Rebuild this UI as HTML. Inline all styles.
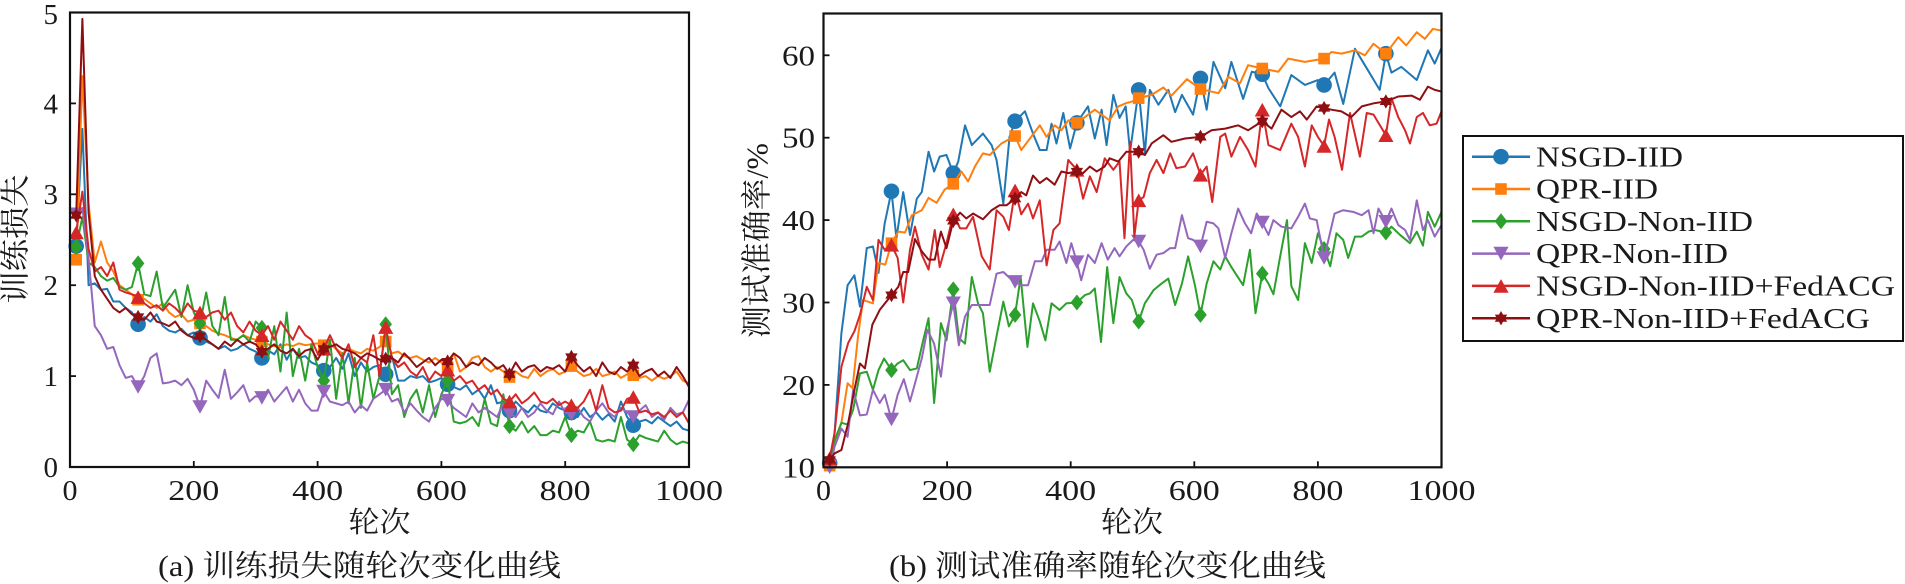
<!DOCTYPE html>
<html>
<head>
<meta charset="utf-8">
<style>
html,body{margin:0;padding:0;background:#fff;}
svg{display:block;}
.t{font-family:"Liberation Serif","Noto Serif CJK SC",serif;fill:#1a1a1a;}
.c{font-family:"Liberation Serif","Noto Serif CJK SC",serif;fill:#1a1a1a;}
</style>
</head>
<body>
<svg width="1905" height="584" viewBox="0 0 1905 584" xmlns="http://www.w3.org/2000/svg">
<defs>
<circle id="mc" r="7.8"/>
<rect id="ms" x="-5.8" y="-5.8" width="11.6" height="11.6"/>
<path id="md" d="M0,-8L6.3,0L0,8L-6.3,0Z"/>
<path id="mv" d="M-7.6,-6.8L7.6,-6.8L0,6.8Z"/>
<path id="mt" d="M-7.6,6.8L7.6,6.8L0,-6.8Z"/>
<path id="mh" d="M0,-7.2L6.2,3.6L-6.2,3.6Z M0,7.2L-6.2,-3.6L6.2,-3.6Z"/>
</defs>
<rect x="0" y="0" width="1905" height="584" fill="#fff"/>

<!-- ============ LEFT PLOT ============ -->
<g transform="matrix(0.619,0,0,-90.9,70,467)" fill="none" stroke-width="2" stroke-linejoin="round">
<polyline vector-effect="non-scaling-stroke" stroke="#1f77b4" points="10,2.43 20,3.72 30,2.0 40,2.02 50,1.95 60,1.96 70,1.82 80,1.82 90,1.75 100,1.7 110,1.57 120,1.65 130,1.6 140,1.68 150,1.55 160,1.5 170,1.48 180,1.52 190,1.45 200,1.48 210,1.42 220,1.38 230,1.35 240,1.3 250,1.33 260,1.28 270,1.3 280,1.35 290,1.3 300,1.27 310,1.2 320,1.28 330,1.24 340,1.35 350,1.18 360,1.3 370,1.2 380,1.22 390,1.15 400,1.12 410,1.06 420,1.1 430,1.2 440,1.08 450,1.25 460,1.0 470,1.15 480,1.05 490,1.1 500,1.12 510,1.02 520,1.22 530,0.95 540,0.95 550,1.0 560,0.98 570,1.0 580,0.93 590,0.95 600,0.98 610,0.91 620,0.88 630,0.85 640,0.9 650,0.8 660,0.85 670,0.75 680,0.9 690,0.7 700,0.72 710,0.62 720,0.72 730,0.65 740,0.6 750,0.68 760,0.62 770,0.6 780,0.7 790,0.65 800,0.62 810,0.6 820,0.55 830,0.65 840,0.55 850,0.6 860,0.52 870,0.58 880,0.5 890,0.72 900,0.55 910,0.46 920,0.5 930,0.52 940,0.48 950,0.55 960,0.5 970,0.45 980,0.5 990,0.42 1000,0.4"/>
<g fill="#1f77b4" stroke="none">
<use href="#mc" transform="translate(10,2.43) scale(1.6155,-0.011001)"/>
<use href="#mc" transform="translate(110,1.57) scale(1.6155,-0.011001)"/>
<use href="#mc" transform="translate(210,1.42) scale(1.6155,-0.011001)"/>
<use href="#mc" transform="translate(310,1.2) scale(1.6155,-0.011001)"/>
<use href="#mc" transform="translate(410,1.06) scale(1.6155,-0.011001)"/>
<use href="#mc" transform="translate(510,1.02) scale(1.6155,-0.011001)"/>
<use href="#mc" transform="translate(610,0.91) scale(1.6155,-0.011001)"/>
<use href="#mc" transform="translate(710,0.62) scale(1.6155,-0.011001)"/>
<use href="#mc" transform="translate(810,0.6) scale(1.6155,-0.011001)"/>
<use href="#mc" transform="translate(910,0.46) scale(1.6155,-0.011001)"/>
</g>
<polyline vector-effect="non-scaling-stroke" stroke="#ff7f0e" points="10,2.28 20,4.3 30,2.9 40,2.25 50,2.48 60,2.25 70,2.15 80,2.0 90,1.95 100,1.9 110,1.84 120,1.85 130,1.8 140,1.75 150,1.8 160,1.7 170,1.65 180,1.68 190,1.6 200,1.62 210,1.58 220,1.55 230,1.5 240,1.47 250,1.45 260,1.42 270,1.4 280,1.45 290,1.42 300,1.4 310,1.38 320,1.35 330,1.33 340,1.32 350,1.35 360,1.33 370,1.36 380,1.34 390,1.35 400,1.36 410,1.34 420,1.35 430,1.3 440,1.25 450,1.3 460,1.27 470,1.25 480,1.3 490,1.28 500,1.32 510,1.38 520,1.25 530,1.27 540,1.22 550,1.2 560,1.22 570,1.18 580,1.15 590,1.2 600,1.15 610,1.1 620,1.25 630,1.05 640,1.1 650,1.2 660,1.22 670,1.1 680,1.05 690,1.1 700,1.05 710,0.99 720,1.05 730,1.0 740,0.98 750,1.08 760,1.0 770,1.05 780,1.08 790,1.02 800,1.05 810,1.11 820,1.05 830,1.0 840,1.02 850,1.08 860,1.0 870,1.02 880,1.05 890,0.98 900,1.02 910,1.01 920,0.98 930,1.0 940,0.95 950,1.0 960,0.97 970,1.0 980,1.05 990,0.95 1000,0.92"/>
<g fill="#ff7f0e" stroke="none">
<use href="#ms" transform="translate(10,2.28) scale(1.6155,-0.011001)"/>
<use href="#ms" transform="translate(110,1.84) scale(1.6155,-0.011001)"/>
<use href="#ms" transform="translate(210,1.58) scale(1.6155,-0.011001)"/>
<use href="#ms" transform="translate(310,1.38) scale(1.6155,-0.011001)"/>
<use href="#ms" transform="translate(410,1.34) scale(1.6155,-0.011001)"/>
<use href="#ms" transform="translate(510,1.38) scale(1.6155,-0.011001)"/>
<use href="#ms" transform="translate(610,1.1) scale(1.6155,-0.011001)"/>
<use href="#ms" transform="translate(710,0.99) scale(1.6155,-0.011001)"/>
<use href="#ms" transform="translate(810,1.11) scale(1.6155,-0.011001)"/>
<use href="#ms" transform="translate(910,1.01) scale(1.6155,-0.011001)"/>
</g>
<polyline vector-effect="non-scaling-stroke" stroke="#2ca02c" points="10,2.42 20,2.75 30,2.25 40,2.2 50,2.1 60,2.05 70,2.08 80,1.98 90,1.95 100,1.98 110,2.24 120,1.9 130,1.88 140,2.15 150,1.75 160,1.85 170,1.95 180,1.65 190,2.0 200,1.7 210,1.58 220,1.92 230,1.55 240,1.45 250,1.87 260,1.4 270,1.4 280,1.45 290,1.38 300,1.6 310,1.53 320,1.2 330,1.55 340,1.05 350,1.7 360,1.0 370,1.3 380,0.95 390,1.35 400,1.1 410,0.95 420,1.4 430,0.75 440,1.25 450,0.7 460,1.2 470,0.65 480,1.15 490,0.75 500,1.0 510,1.57 520,0.8 530,0.9 540,0.55 550,0.75 560,0.85 570,0.6 580,0.9 590,0.55 600,0.8 610,0.95 620,0.5 630,0.48 640,0.5 650,0.55 660,0.45 670,0.75 680,0.48 690,0.45 700,0.8 710,0.45 720,0.4 730,0.5 740,0.38 750,0.45 760,0.35 770,0.35 780,0.4 790,0.38 800,0.55 810,0.35 820,0.4 830,0.38 840,0.5 850,0.3 860,0.28 870,0.3 880,0.28 890,0.55 900,0.3 910,0.25 920,0.35 930,0.32 940,0.3 950,0.28 960,0.4 970,0.3 980,0.25 990,0.28 1000,0.26"/>
<g fill="#2ca02c" stroke="none">
<use href="#md" transform="translate(10,2.42) scale(1.6155,-0.011001)"/>
<use href="#md" transform="translate(110,2.24) scale(1.6155,-0.011001)"/>
<use href="#md" transform="translate(210,1.58) scale(1.6155,-0.011001)"/>
<use href="#md" transform="translate(310,1.53) scale(1.6155,-0.011001)"/>
<use href="#md" transform="translate(410,0.95) scale(1.6155,-0.011001)"/>
<use href="#md" transform="translate(510,1.57) scale(1.6155,-0.011001)"/>
<use href="#md" transform="translate(610,0.95) scale(1.6155,-0.011001)"/>
<use href="#md" transform="translate(710,0.45) scale(1.6155,-0.011001)"/>
<use href="#md" transform="translate(810,0.35) scale(1.6155,-0.011001)"/>
<use href="#md" transform="translate(910,0.25) scale(1.6155,-0.011001)"/>
</g>
<polyline vector-effect="non-scaling-stroke" stroke="#9467bd" points="10,2.78 20,2.85 30,2.3 40,1.55 50,1.45 60,1.3 70,1.32 80,1.12 90,0.98 100,1.0 110,0.88 120,1.0 130,1.2 140,1.25 150,0.92 160,0.93 170,0.95 180,0.9 190,0.97 200,0.85 210,0.66 220,0.95 230,0.85 240,0.76 250,1.07 260,0.75 270,0.82 280,0.9 290,0.72 300,0.78 310,0.76 320,0.85 330,0.72 340,0.8 350,0.88 360,0.72 370,0.85 380,0.7 390,0.62 400,0.62 410,0.83 420,0.72 430,0.7 440,0.68 450,0.72 460,0.6 470,0.68 480,0.62 490,0.75 500,0.8 510,0.85 520,0.72 530,0.75 540,0.6 550,0.7 560,0.62 570,0.55 580,0.5 590,0.65 600,0.75 610,0.73 620,0.65 630,0.6 640,0.55 650,0.7 660,0.6 670,0.65 680,0.6 690,0.55 700,0.7 710,0.59 720,0.55 730,0.65 740,0.55 750,0.6 760,0.7 770,0.62 780,0.58 790,0.72 800,0.6 810,0.58 820,0.65 830,0.55 840,0.5 850,0.62 860,0.7 870,0.6 880,0.55 890,0.65 900,0.6 910,0.55 920,0.62 930,0.68 940,0.55 950,0.6 960,0.52 970,0.65 980,0.58 990,0.6 1000,0.74"/>
<g fill="#9467bd" stroke="none">
<use href="#mv" transform="translate(10,2.78) scale(1.6155,-0.011001)"/>
<use href="#mv" transform="translate(110,0.88) scale(1.6155,-0.011001)"/>
<use href="#mv" transform="translate(210,0.66) scale(1.6155,-0.011001)"/>
<use href="#mv" transform="translate(310,0.76) scale(1.6155,-0.011001)"/>
<use href="#mv" transform="translate(410,0.83) scale(1.6155,-0.011001)"/>
<use href="#mv" transform="translate(510,0.85) scale(1.6155,-0.011001)"/>
<use href="#mv" transform="translate(610,0.73) scale(1.6155,-0.011001)"/>
<use href="#mv" transform="translate(710,0.59) scale(1.6155,-0.011001)"/>
<use href="#mv" transform="translate(810,0.58) scale(1.6155,-0.011001)"/>
<use href="#mv" transform="translate(910,0.55) scale(1.6155,-0.011001)"/>
</g>
<polyline vector-effect="non-scaling-stroke" stroke="#d62728" points="10,2.58 20,3.03 30,2.4 40,2.15 50,2.2 60,2.1 70,2.25 80,1.95 90,1.92 100,1.9 110,1.87 120,1.8 130,1.75 140,1.78 150,1.72 160,1.8 170,1.75 180,1.68 190,1.8 200,1.72 210,1.7 220,1.65 230,1.7 240,1.72 250,1.62 260,1.7 270,1.55 280,1.48 290,1.6 300,1.5 310,1.45 320,1.55 330,1.4 340,1.6 350,1.5 360,1.4 370,1.55 380,1.45 390,1.4 400,1.25 410,1.3 420,1.45 430,1.3 440,1.2 450,1.35 460,1.1 470,1.2 480,1.15 490,1.45 500,1.0 510,1.54 520,1.2 530,1.1 540,1.15 550,1.05 560,1.0 570,1.1 580,0.95 590,1.05 600,1.0 610,1.07 620,0.95 630,1.0 640,0.92 650,0.95 660,0.85 670,0.9 680,0.8 690,0.85 700,0.75 710,0.72 720,0.8 730,0.7 740,0.75 750,0.82 760,0.72 770,0.7 780,0.75 790,0.68 800,0.72 810,0.68 820,0.65 830,0.72 840,0.85 850,0.62 860,0.9 870,0.65 880,0.6 890,0.62 900,0.75 910,0.77 920,0.6 930,0.62 940,0.58 950,0.6 960,0.55 970,0.62 980,0.55 990,0.6 1000,0.48"/>
<g fill="#d62728" stroke="none">
<use href="#mt" transform="translate(10,2.58) scale(1.6155,-0.011001)"/>
<use href="#mt" transform="translate(110,1.87) scale(1.6155,-0.011001)"/>
<use href="#mt" transform="translate(210,1.7) scale(1.6155,-0.011001)"/>
<use href="#mt" transform="translate(310,1.45) scale(1.6155,-0.011001)"/>
<use href="#mt" transform="translate(410,1.3) scale(1.6155,-0.011001)"/>
<use href="#mt" transform="translate(510,1.54) scale(1.6155,-0.011001)"/>
<use href="#mt" transform="translate(610,1.07) scale(1.6155,-0.011001)"/>
<use href="#mt" transform="translate(710,0.72) scale(1.6155,-0.011001)"/>
<use href="#mt" transform="translate(810,0.68) scale(1.6155,-0.011001)"/>
<use href="#mt" transform="translate(910,0.77) scale(1.6155,-0.011001)"/>
</g>
<polyline vector-effect="non-scaling-stroke" stroke="#8e0f12" points="10,2.77 20,4.93 30,2.8 40,2.1 50,1.95 60,1.85 70,1.75 80,1.7 90,1.75 100,1.68 110,1.65 120,1.62 130,1.7 140,1.6 150,1.58 160,1.55 170,1.6 180,1.5 190,1.45 200,1.42 210,1.44 220,1.4 230,1.35 240,1.3 250,1.38 260,1.33 270,1.4 280,1.35 290,1.38 300,1.35 310,1.27 320,1.3 330,1.35 340,1.28 350,1.25 360,1.3 370,1.22 380,1.28 390,1.3 400,1.18 410,1.3 420,1.32 430,1.35 440,1.3 450,1.28 460,1.25 470,1.2 480,1.25 490,1.22 500,1.18 510,1.19 520,1.2 530,1.15 540,1.25 550,1.18 560,1.1 570,1.15 580,1.2 590,1.12 600,1.18 610,1.16 620,1.25 630,1.2 640,1.1 650,1.15 660,1.12 670,1.2 680,1.15 690,1.08 700,1.12 710,1.02 720,1.15 730,1.05 740,1.1 750,1.12 760,1.05 770,1.1 780,1.08 790,1.12 800,1.05 810,1.21 820,1.12 830,1.05 840,1.1 850,1.0 860,1.15 870,1.05 880,1.02 890,1.1 900,1.05 910,1.12 920,1.0 930,1.05 940,1.08 950,1.0 960,1.05 970,0.98 980,1.1 990,1.0 1000,0.88"/>
<g fill="#8e0f12" stroke="none">
<use href="#mh" transform="translate(10,2.77) scale(1.6155,-0.011001)"/>
<use href="#mh" transform="translate(110,1.65) scale(1.6155,-0.011001)"/>
<use href="#mh" transform="translate(210,1.44) scale(1.6155,-0.011001)"/>
<use href="#mh" transform="translate(310,1.27) scale(1.6155,-0.011001)"/>
<use href="#mh" transform="translate(410,1.3) scale(1.6155,-0.011001)"/>
<use href="#mh" transform="translate(510,1.19) scale(1.6155,-0.011001)"/>
<use href="#mh" transform="translate(610,1.16) scale(1.6155,-0.011001)"/>
<use href="#mh" transform="translate(710,1.02) scale(1.6155,-0.011001)"/>
<use href="#mh" transform="translate(810,1.21) scale(1.6155,-0.011001)"/>
<use href="#mh" transform="translate(910,1.12) scale(1.6155,-0.011001)"/>
</g>
</g>

<!-- left frame and ticks -->
<rect x="70" y="12.5" width="619" height="454.5" fill="none" stroke="#111" stroke-width="2.2"/>
<g stroke="#111" stroke-width="1.8">
<line x1="193.8" y1="467" x2="193.8" y2="461"/>
<line x1="317.6" y1="467" x2="317.6" y2="461"/>
<line x1="441.4" y1="467" x2="441.4" y2="461"/>
<line x1="565.2" y1="467" x2="565.2" y2="461"/>
<line x1="70" y1="376.1" x2="76" y2="376.1"/>
<line x1="70" y1="285.2" x2="76" y2="285.2"/>
<line x1="70" y1="194.3" x2="76" y2="194.3"/>
<line x1="70" y1="103.4" x2="76" y2="103.4"/>
</g>
<g class="t" font-size="29" text-anchor="middle">
<text x="70" y="500" textLength="15" lengthAdjust="spacingAndGlyphs">0</text>
<text x="193.8" y="500" textLength="51" lengthAdjust="spacingAndGlyphs">200</text>
<text x="317.6" y="500" textLength="51" lengthAdjust="spacingAndGlyphs">400</text>
<text x="441.4" y="500" textLength="51" lengthAdjust="spacingAndGlyphs">600</text>
<text x="565.2" y="500" textLength="51" lengthAdjust="spacingAndGlyphs">800</text>
<text x="689" y="500" textLength="68" lengthAdjust="spacingAndGlyphs">1000</text>
</g>
<g class="t" font-size="29" text-anchor="end">
<text x="58" y="477">0</text>
<text x="58" y="386">1</text>
<text x="58" y="295">2</text>
<text x="58" y="204">3</text>
<text x="58" y="113.5">4</text>
<text x="58" y="24">5</text>
</g>
<text class="c" font-size="30" transform="translate(16,239) rotate(-90)" text-anchor="middle" dominant-baseline="central" textLength="129" lengthAdjust="spacingAndGlyphs">训练损失</text>
<text class="c" font-size="29" x="379.5" y="532" text-anchor="middle" textLength="62" lengthAdjust="spacingAndGlyphs">轮次</text>
<text class="c" font-size="30" x="158" y="576" textLength="403" lengthAdjust="spacingAndGlyphs">(a) 训练损失随轮次变化曲线</text>

<!-- ============ RIGHT PLOT ============ -->
<g transform="matrix(0.618,0,0,-8.24,823.5,549.7)" fill="none" stroke-width="2" stroke-linejoin="round">
<polyline vector-effect="non-scaling-stroke" stroke="#1f77b4" points="10,10.5 18,14.2 29,26.3 39,32.1 50,33.3 59,29.5 70,36.6 80,36.8 89,33.6 99,39.6 110,43.5 118,37.8 129,43.4 140,38.2 151,42.6 159,43.4 170,48.3 179,45.9 188,47.7 199,47.9 210,45.7 218,47.1 229,51.5 240,49.1 258,50.5 272,49.1 280,47.3 291,42 301,50.1 310,52 326,53.2 339,50.5 350,48.5 361,48.5 369,51.7 377,49.3 388,53 399,48.7 410,51.8 428,53.8 439,49.9 450,53.4 458,49.1 469,55.2 479,52.4 489,53.8 496,48.3 510,55.8 520,48 528,55.8 542,54 558,55.8 569,53.1 580,55.2 598,52.8 610,57.2 620,53.4 631,59.2 650,56 660,59.2 679,54.7 693,58 710,57.7 720,56 739,53.8 757,57.6 779,56.4 800,57 810,56.4 827,57.9 841,54.1 860,60.8 876,58.8 900,55.8 910,60.2 919,57.9 935,58.6 960,57 978,60.6 989,59 1000,60.9"/>
<g fill="#1f77b4" stroke="none">
<use href="#mc" transform="translate(10,10.5) scale(1.6181,-0.12136)"/>
<use href="#mc" transform="translate(110,43.5) scale(1.6181,-0.12136)"/>
<use href="#mc" transform="translate(210,45.7) scale(1.6181,-0.12136)"/>
<use href="#mc" transform="translate(310,52) scale(1.6181,-0.12136)"/>
<use href="#mc" transform="translate(410,51.8) scale(1.6181,-0.12136)"/>
<use href="#mc" transform="translate(510,55.8) scale(1.6181,-0.12136)"/>
<use href="#mc" transform="translate(610,57.2) scale(1.6181,-0.12136)"/>
<use href="#mc" transform="translate(710,57.7) scale(1.6181,-0.12136)"/>
<use href="#mc" transform="translate(810,56.4) scale(1.6181,-0.12136)"/>
<use href="#mc" transform="translate(910,60.2) scale(1.6181,-0.12136)"/>
</g>
<polyline vector-effect="non-scaling-stroke" stroke="#ff7f0e" points="10,10.2 18,12.95 29,15.4 39,20.2 47,19.6 56,26 64,30.3 80,29.9 89,34.8 100,34.6 110,37.2 121,38.6 132,38.5 143,40.6 159,41.2 170,42.7 183,42.1 196,43.7 210,44.4 223,45.9 234,44.7 245,46.5 258,48.1 269,47.9 288,49.3 310,50.2 320,48.5 334,49.9 350,51.5 361,50.1 374,51.5 385,50.9 396,52.1 410,51.8 423,52.5 439,53.4 450,52.8 463,52.1 477,53.8 490,54.2 500,54.4 510,54.8 531,55.2 550,56.1 563,55.1 588,57.1 610,55.9 639,55.4 655,57.4 674,56.6 687,58.8 710,58.4 736,58 752,59.6 779,59.2 810,59.6 822,60.4 838,60.2 860,60.6 876,60 890,61.4 910,60.2 930,62.2 943,61.2 960,62.8 973,62 986,63.2 1000,63"/>
<g fill="#ff7f0e" stroke="none">
<use href="#ms" transform="translate(10,10.2) scale(1.6181,-0.12136)"/>
<use href="#ms" transform="translate(110,37.2) scale(1.6181,-0.12136)"/>
<use href="#ms" transform="translate(210,44.4) scale(1.6181,-0.12136)"/>
<use href="#ms" transform="translate(310,50.2) scale(1.6181,-0.12136)"/>
<use href="#ms" transform="translate(410,51.8) scale(1.6181,-0.12136)"/>
<use href="#ms" transform="translate(510,54.8) scale(1.6181,-0.12136)"/>
<use href="#ms" transform="translate(610,55.9) scale(1.6181,-0.12136)"/>
<use href="#ms" transform="translate(710,58.4) scale(1.6181,-0.12136)"/>
<use href="#ms" transform="translate(810,59.6) scale(1.6181,-0.12136)"/>
<use href="#ms" transform="translate(910,60.2) scale(1.6181,-0.12136)"/>
</g>
<polyline vector-effect="non-scaling-stroke" stroke="#2ca02c" points="10,10.4 18,13.3 29,15.4 39,15.2 48,17 59,21.4 70,21.6 80,19.4 89,21.8 98,23.2 110,21.8 120,22.6 129,23 140,21.8 151,22 160,25 170,28.1 179,17.8 190,27.5 199,25.4 210,31.6 219,25.7 229,25 240,33.1 250,29.9 258,28.7 269,21.6 280,25.9 291,30.1 300,27.1 310,28.5 319,33.1 330,24.6 339,29.9 350,27.7 359,25.4 369,29.9 382,29.1 393,29.9 410,30 423,30.9 431,31.1 439,31.7 449,25.2 459,34.3 469,27.5 479,33.1 490,31.1 499,30.3 510,27.7 520,29.9 534,31.5 547,32.3 558,32.9 569,29.7 580,32.3 590,35.6 601,32.1 610,28.5 620,32.3 631,35 642,34 650,35.6 660,34.3 679,32.1 690,36.4 699,28.7 710,33.5 720,32.3 728,31 739,35.6 750,40 757,32 768,30.3 779,37.2 790,34.8 800,38.4 810,36.5 820,34.4 830,38.4 841,37.6 849,35.4 860,38 871,38 882,38.6 892,38.8 910,38.5 919,39.2 933,38.2 949,37.2 960,38.6 970,36.9 978,41 989,39.2 1000,41"/>
<g fill="#2ca02c" stroke="none">
<use href="#md" transform="translate(10,10.4) scale(1.6181,-0.12136)"/>
<use href="#md" transform="translate(110,21.8) scale(1.6181,-0.12136)"/>
<use href="#md" transform="translate(210,31.6) scale(1.6181,-0.12136)"/>
<use href="#md" transform="translate(310,28.5) scale(1.6181,-0.12136)"/>
<use href="#md" transform="translate(410,30) scale(1.6181,-0.12136)"/>
<use href="#md" transform="translate(510,27.7) scale(1.6181,-0.12136)"/>
<use href="#md" transform="translate(610,28.5) scale(1.6181,-0.12136)"/>
<use href="#md" transform="translate(710,33.5) scale(1.6181,-0.12136)"/>
<use href="#md" transform="translate(810,36.5) scale(1.6181,-0.12136)"/>
<use href="#md" transform="translate(910,38.5) scale(1.6181,-0.12136)"/>
</g>
<polyline vector-effect="non-scaling-stroke" stroke="#9467bd" points="10,10 18,12.5 29,14.7 39,13.7 48,19.4 59,16.3 70,16.4 80,19.4 91,17.8 99,18.8 110,15.8 120,18.8 130,20.7 140,18 151,21 159,23.2 168,26.7 179,25 190,21 199,26.5 210,29.9 219,24.8 229,28.3 240,29.7 258,29.7 269,29.7 280,33.5 291,33.7 301,33 310,32.5 320,32.1 331,32.1 342,35 353,35 361,36.4 374,36.4 382,37.4 393,34.8 401,37.2 410,34.9 417,32.7 428,35.8 439,34.8 450,37.2 460,35.2 471,36.6 479,35.6 490,36.8 501,37.6 510,37.4 518,36.4 528,34.1 539,35.8 550,36 561,36.6 569,36.6 580,40.6 590,37.8 598,37.6 610,36.8 620,39.8 631,39.6 639,39 650,35.4 660,38.4 671,41.4 682,39.6 692,38.4 701,40.8 710,39.7 720,38.2 728,40 741,39.2 757,39 768,40.4 779,42 787,40.2 798,40 810,35.4 817,37.6 827,40.8 841,41.2 857,41 871,40.6 882,41.2 890,38.4 898,41.4 910,39.8 919,41.4 930,39.4 941,38.8 949,37.6 960,42.4 970,38.8 978,40 989,38 1000,39.4"/>
<g fill="#9467bd" stroke="none">
<use href="#mv" transform="translate(10,10) scale(1.6181,-0.12136)"/>
<use href="#mv" transform="translate(110,15.8) scale(1.6181,-0.12136)"/>
<use href="#mv" transform="translate(210,29.9) scale(1.6181,-0.12136)"/>
<use href="#mv" transform="translate(310,32.5) scale(1.6181,-0.12136)"/>
<use href="#mv" transform="translate(410,34.9) scale(1.6181,-0.12136)"/>
<use href="#mv" transform="translate(510,37.4) scale(1.6181,-0.12136)"/>
<use href="#mv" transform="translate(610,36.8) scale(1.6181,-0.12136)"/>
<use href="#mv" transform="translate(710,39.7) scale(1.6181,-0.12136)"/>
<use href="#mv" transform="translate(810,35.4) scale(1.6181,-0.12136)"/>
<use href="#mv" transform="translate(910,39.8) scale(1.6181,-0.12136)"/>
</g>
<polyline vector-effect="non-scaling-stroke" stroke="#d62728" points="10,11.1 18,14.2 29,22.2 40,25.1 50,26.5 59,28.5 70,31.9 80,30.3 89,37.6 99,36.4 110,37 120,35.4 129,30 140,36.4 148,39.2 159,35.8 170,34 180,38.8 188,34.3 199,37.2 210,40.7 221,39 231,39 242,40.4 256,35.6 269,34 280,41.2 291,40.4 300,38.8 310,43.6 320,40.7 331,42 339,40.2 350,42.4 361,34.5 372,38.8 382,39.6 396,47.3 410,46.1 420,42.6 431,45.3 442,43.4 455,47.5 469,46.1 479,47.1 487,37.8 496,49.5 503,38 510,42.4 518,42.8 528,45.7 539,47.3 550,45.7 561,48.1 571,46.3 585,46.5 598,48.1 610,45.5 620,46.5 629,42.2 642,50.1 650,50.5 660,47.7 674,50.1 687,48.5 699,46.5 710,53.4 720,49.1 739,48.5 757,51.7 768,50.1 779,46.5 790,51.5 800,50.1 810,49 818,52.2 827,50.1 839,46.1 852,53 868,47.7 879,53 890,52.8 910,50.3 919,54.8 930,52.5 941,50.9 949,49.3 960,52.5 970,53 981,51.5 992,51.7 1000,53.2"/>
<g fill="#d62728" stroke="none">
<use href="#mt" transform="translate(10,11.1) scale(1.6181,-0.12136)"/>
<use href="#mt" transform="translate(110,37) scale(1.6181,-0.12136)"/>
<use href="#mt" transform="translate(210,40.7) scale(1.6181,-0.12136)"/>
<use href="#mt" transform="translate(310,43.6) scale(1.6181,-0.12136)"/>
<use href="#mt" transform="translate(410,46.1) scale(1.6181,-0.12136)"/>
<use href="#mt" transform="translate(510,42.4) scale(1.6181,-0.12136)"/>
<use href="#mt" transform="translate(610,45.5) scale(1.6181,-0.12136)"/>
<use href="#mt" transform="translate(710,53.4) scale(1.6181,-0.12136)"/>
<use href="#mt" transform="translate(810,49) scale(1.6181,-0.12136)"/>
<use href="#mt" transform="translate(910,50.3) scale(1.6181,-0.12136)"/>
</g>
<polyline vector-effect="non-scaling-stroke" stroke="#8e0f12" points="10,10.9 18,11.7 29,12.1 40,15.4 50,19.4 59,22.6 67,22 79,27.3 91,29.1 110,30.9 121,31.9 129,33.7 137,33.7 148,37.7 159,36.2 170,35.2 180,35.2 190,38.6 199,36.6 210,39.9 221,40.9 231,40.2 242,40.8 258,40.1 272,41.2 285,41.8 296,41.8 310,42.6 320,43.4 328,43 339,45.4 350,44.5 361,45.1 374,44.3 385,45.9 396,45.7 410,45.9 420,45.7 431,46.5 442,45.9 455,46.5 463,47.5 477,47.1 490,48.3 501,48.3 510,48.3 520,47.9 531,49.3 550,50.3 563,49.5 585,49.9 610,50.1 628,50.9 650,51.1 671,51.5 687,50.9 710,52 725,51.1 741,53.4 757,52.5 771,53.2 782,52.2 798,53.8 810,53.6 822,53.4 838,53.2 854,52.5 871,53.8 892,54.2 910,54.4 930,55 952,55.1 965,54.6 978,56.2 989,55.8 1000,55.6"/>
<g fill="#8e0f12" stroke="none">
<use href="#mh" transform="translate(10,10.9) scale(1.6181,-0.12136)"/>
<use href="#mh" transform="translate(110,30.9) scale(1.6181,-0.12136)"/>
<use href="#mh" transform="translate(210,39.9) scale(1.6181,-0.12136)"/>
<use href="#mh" transform="translate(310,42.6) scale(1.6181,-0.12136)"/>
<use href="#mh" transform="translate(410,45.9) scale(1.6181,-0.12136)"/>
<use href="#mh" transform="translate(510,48.3) scale(1.6181,-0.12136)"/>
<use href="#mh" transform="translate(610,50.1) scale(1.6181,-0.12136)"/>
<use href="#mh" transform="translate(710,52) scale(1.6181,-0.12136)"/>
<use href="#mh" transform="translate(810,53.6) scale(1.6181,-0.12136)"/>
<use href="#mh" transform="translate(910,54.4) scale(1.6181,-0.12136)"/>
</g>
</g>

<!-- right frame and ticks -->
<rect x="823.5" y="13.5" width="618" height="453.8" fill="none" stroke="#111" stroke-width="2.2"/>
<g stroke="#111" stroke-width="1.8">
<line x1="947.1" y1="467.3" x2="947.1" y2="461.3"/>
<line x1="1070.7" y1="467.3" x2="1070.7" y2="461.3"/>
<line x1="1194.3" y1="467.3" x2="1194.3" y2="461.3"/>
<line x1="1317.9" y1="467.3" x2="1317.9" y2="461.3"/>
<line x1="823.5" y1="384.9" x2="829.5" y2="384.9"/>
<line x1="823.5" y1="302.5" x2="829.5" y2="302.5"/>
<line x1="823.5" y1="220.1" x2="829.5" y2="220.1"/>
<line x1="823.5" y1="137.7" x2="829.5" y2="137.7"/>
<line x1="823.5" y1="55.3" x2="829.5" y2="55.3"/>
</g>
<g class="t" font-size="29" text-anchor="middle">
<text x="823.5" y="500" textLength="15" lengthAdjust="spacingAndGlyphs">0</text>
<text x="947.1" y="500" textLength="51" lengthAdjust="spacingAndGlyphs">200</text>
<text x="1070.7" y="500" textLength="51" lengthAdjust="spacingAndGlyphs">400</text>
<text x="1194.3" y="500" textLength="51" lengthAdjust="spacingAndGlyphs">600</text>
<text x="1317.9" y="500" textLength="51" lengthAdjust="spacingAndGlyphs">800</text>
<text x="1441.5" y="500" textLength="68" lengthAdjust="spacingAndGlyphs">1000</text>
</g>
<g class="t" font-size="29" text-anchor="end">
<text x="815" y="477.3" textLength="33" lengthAdjust="spacingAndGlyphs">10</text>
<text x="815" y="394.9" textLength="33" lengthAdjust="spacingAndGlyphs">20</text>
<text x="815" y="312.5" textLength="33" lengthAdjust="spacingAndGlyphs">30</text>
<text x="815" y="230.1" textLength="33" lengthAdjust="spacingAndGlyphs">40</text>
<text x="815" y="147.7" textLength="33" lengthAdjust="spacingAndGlyphs">50</text>
<text x="815" y="65.3" textLength="33" lengthAdjust="spacingAndGlyphs">60</text>
</g>
<text class="c" font-size="31" transform="translate(757,240.5) rotate(-90)" text-anchor="middle" dominant-baseline="central" textLength="195" lengthAdjust="spacingAndGlyphs">测试准确率/%</text>
<text class="c" font-size="29" x="1132" y="532" text-anchor="middle" textLength="62" lengthAdjust="spacingAndGlyphs">轮次</text>
<text class="c" font-size="30" x="889" y="576" textLength="437" lengthAdjust="spacingAndGlyphs">(b) 测试准确率随轮次变化曲线</text>

<!-- ============ LEGEND ============ -->
<rect x="1463" y="136" width="440" height="205" fill="#fff" stroke="#111" stroke-width="2"/>
<g stroke-width="2.5">
<line x1="1472" y1="156.7" x2="1530" y2="156.7" stroke="#1f77b4"/>
<line x1="1472" y1="189" x2="1530" y2="189" stroke="#ff7f0e"/>
<line x1="1472" y1="221.3" x2="1530" y2="221.3" stroke="#2ca02c"/>
<line x1="1472" y1="253.6" x2="1530" y2="253.6" stroke="#9467bd"/>
<line x1="1472" y1="285.9" x2="1530" y2="285.9" stroke="#d62728"/>
<line x1="1472" y1="318.2" x2="1530" y2="318.2" stroke="#8e0f12"/>
</g>
<use href="#mc" x="1501" y="156.7" fill="#1f77b4"/>
<use href="#ms" x="1501" y="189" fill="#ff7f0e"/>
<use href="#md" x="1501" y="221.3" fill="#2ca02c"/>
<use href="#mv" x="1501" y="253.6" fill="#9467bd"/>
<use href="#mt" x="1501" y="285.9" fill="#d62728"/>
<use href="#mh" x="1501" y="318.2" fill="#8e0f12"/>
<g class="t" font-size="28">
<text x="1536" y="166.3" textLength="147" lengthAdjust="spacingAndGlyphs">NSGD-IID</text>
<text x="1536" y="198.6" textLength="122" lengthAdjust="spacingAndGlyphs">QPR-IID</text>
<text x="1536" y="230.9" textLength="217" lengthAdjust="spacingAndGlyphs">NSGD-Non-IID</text>
<text x="1536" y="263.2" textLength="192" lengthAdjust="spacingAndGlyphs">QPR-Non-IID</text>
<text x="1536" y="295.5" textLength="359" lengthAdjust="spacingAndGlyphs">NSGD-Non-IID+FedACG</text>
<text x="1536" y="327.8" textLength="334" lengthAdjust="spacingAndGlyphs">QPR-Non-IID+FedACG</text>
</g>
</svg>
</body>
</html>
